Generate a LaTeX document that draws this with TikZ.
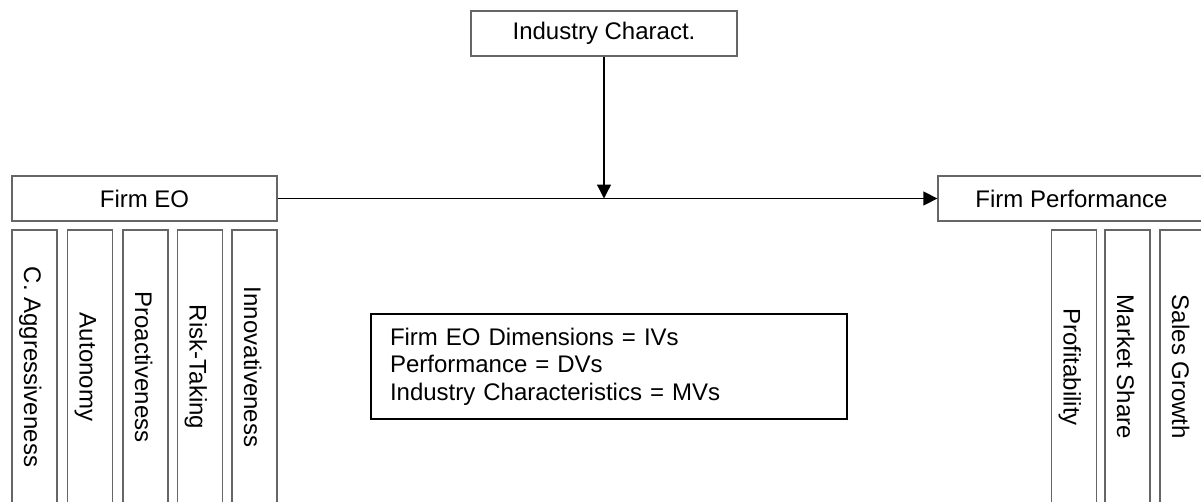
\documentclass[tikz,border=0pt]{standalone}
\usepackage{fontspec}
\setmainfont{Liberation Sans}
\usetikzlibrary{arrows.meta}
\begin{document}
\begin{tikzpicture}[x=1pt,y=-1pt,
  lbl/.style={font=\fontsize{24}{27.6}\selectfont},
  box/.style={lbl,draw=black!60,line width=1.3pt,inner sep=0pt,minimum height=45pt},
  dimbox/.style={lbl,draw=black!60,line width=1.3pt,inner sep=0pt,rotate=-90,minimum width=274pt,minimum height=45pt,text height=26pt,text depth=5pt},
  conn/.style={draw=black,line width=1.3pt,-{Triangle[length=14pt,width=14pt]}}]
\useasboundingbox (0,0) rectangle (1201,501);
\node[box,minimum width=266pt] (ind) at (604,33.5) {Industry Charact.};
\node[box,minimum width=265pt] (eo) at (144.5,198.5) {Firm EO};
\node[box,minimum width=267pt] (fp) at (1071.5,198.5) {Firm Performance};
\coordinate (m) at (604,198.5);
\draw[conn] (eo) -- (fp);
\draw[conn] (ind) -- (m);
\node[dimbox] (d1) at (34.5,367) {C. Aggressiveness};
\node[dimbox] (d2) at (90,367) {Autonomy};
\node[dimbox] (d3) at (145.5,367) {Proactiveness};
\node[dimbox] (d4) at (200,367) {Risk-Taking};
\node[dimbox] (d5) at (254.5,367) {Innovativeness};
\node[dimbox] (p1) at (1074,367) {Profitability};
\node[dimbox] (p2) at (1127.5,367) {Market Share};
\node[dimbox] (p3) at (1182.5,367) {Sales Growth};
\node[lbl,draw=black,line width=1.5pt,align=left,text width=438pt,inner xsep=19pt,inner ysep=0pt,minimum height=105pt] (leg) at (609,366.5)
  {Firm EO Dimensions = IVs\\Performance = DVs\\Industry Characteristics = MVs};
\end{tikzpicture}
\end{document}
